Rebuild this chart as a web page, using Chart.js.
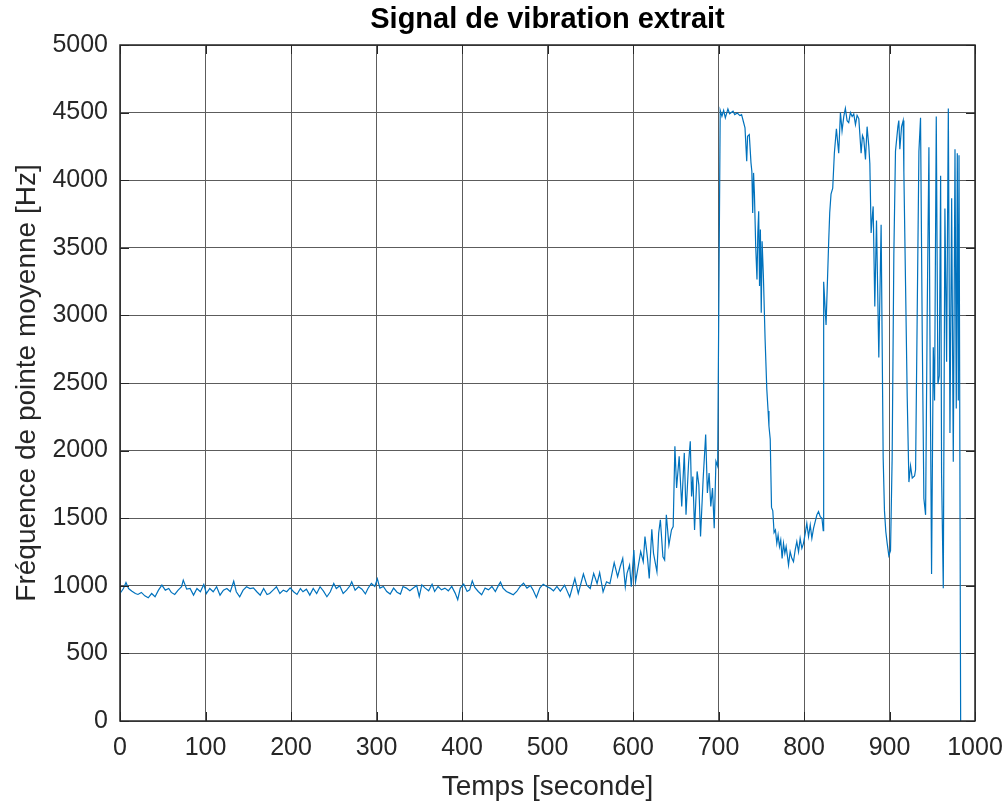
<!DOCTYPE html>
<html>
<head>
<meta charset="utf-8">
<title>Signal de vibration extrait</title>
<script src="https://cdn.jsdelivr.net/npm/chart.js"></script>
<style>
  body { margin: 0; background: #fff; }
  canvas { display: block; background: #fff; }
</style>
</head>
<body>
<canvas id="chart" width="1007" height="804"></canvas>
<script>
// [temps (s), fréquence (Hz)]
const phaseStable = [
  [0,943],[4,980],[7,1025],[10,980],[14,960],[18,943],[21,936],[25,951],[29,926],[33,911],
  [37,943],[41,919],[45,968],[49,1005],[53,968],[57,980],[60,951],[64,936],[68,968],[72,993],
  [74,1042],[78,975],[82,980],[86,931],[90,980],[94,956],[98,1010],[101,943],[105,980],[109,956],
  [113,993],[117,931],[121,968],[125,980],[129,956],[133,1034],[136,956],[140,919],[144,968],[148,993],
  [152,980],[156,985],[160,956],[164,931],[168,980],[172,936],[175,943],[179,968],[183,993],[187,943],
  [191,968],[195,956],[199,985],[203,956],[207,936],[211,980],[214,956],[218,975],[222,931],[226,980],
  [230,943],[234,993],[238,961],[242,919],[246,956],[250,1017],[253,980],[257,1000],[261,943],[265,968],
  [269,1000],[271,1030],[275,968],[279,993],[283,975],[287,940],[290,980],[294,1017],[298,995],[301,1052],
  [304,983],[308,995],[312,958],[316,939],[320,983],[324,953],[328,939],[331,995],[335,983],[339,963],
  [343,983],[347,1002],[350,921],[353,1007],[357,983],[361,963],[365,1012],[368,958],[372,995],[376,970],
  [380,983],[384,963],[388,995],[392,946],[395,897],[398,983],[402,1012],[406,958],[409,970],[412,1037],
  [415,988],[419,958],[423,934],[427,983],[431,970],[435,995],[439,958],[443,1007],[445,1027],[448,983],
  [452,958],[456,946],[460,934],[464,958],[468,995],[472,1020],[476,983],[480,1002],[483,970],[487,914],
  [491,983],[495,1012],[499,995],[503,983],[507,963],[511,995],[515,960],[520,1005],[526,918],[532,1054],
  [536,943],[542,1087],[546,1005],[550,980],[554,1092],[558,1017],[561,1097],[565,955],[569,1030],[573,1017],
  [578,1171],[582,1067],[585,1141],[588,1203],[591,993],[593,1092],[596,1153],[598,993]
];

const phaseTransition = [
  [601,1265],[603,1030],[606,1141],[609,1252],[612,1178],[614,1364],[617,1203],[619,1054],[622,1418],[624,1240],
  [628,1104],[630,1389],[632,1488],[635,1215],[637,1191],[639,1525],[642,1302],[645,1413],[647,1438],[649,2032],
  [651,1723],[654,1958],[657,1587],[660,1983],[662,1525],[665,1908],[667,2069],[668.5,1661],[670,1809],[672,1413],
  [675,1846],[677,1747],[679,1364],[682,1785],[685,2119],[687,1686],[689,1834],[691,1587],[693,1723],[695,1426],
  [697,1921],[699,1884]
];

const phasePlateau = [
  [702,4517],[704,4473],[706,4517],[708,4461],[711,4527],[713,4492],[717,4510],[719,4485],[722,4497],[725,4478],
  [727,4485],[729,4436],[731,4387],[733,4140],[734,4325],[736,4337],[738,4128],[739,4066],[740,3758],[741,4054],
  [742,3906],[743.5,3512],[745,3266],[746,3611],[747,3771],[748,3217],[749,3635],[750,3020],[751,3549],[752.5,3291],
  [754.5,2823],[756.5,2453],[758,2293],[759,2182],[760.5,2084],[762,1580],[763.5,1554],[765,1394],[766.6,1413],[768.2,1314],
  [769.7,1376],[771.3,1290],[772.8,1339],[774.4,1203],[776,1314],[777.6,1240],[779.1,1290],[780.7,1215],[781.9,1153],[783.8,1252],
  [785.8,1203],[787.7,1178],[789.7,1265],[791.6,1327],[793.6,1252],[795.5,1351],[797.5,1277],[799.4,1314],[801.8,1401],[803.3,1463],
  [805.3,1364],[807.3,1450],[809.2,1351],[811.2,1426],[813.1,1475],[815.1,1525],[817,1549],[819,1512],[821,1500],[822.5,1408]
];

const phaseFinale = [
  [823,3248],[825.8,2930],[828.9,3550],[830.1,3761],[831.6,3897],[833.6,3942],[835.5,4199],[837.9,4380],[840.6,4199],[842.6,4501],
  [844.5,4365],[846.5,4470],[848.4,4531],[850.4,4440],[852.3,4426],[854.3,4500],[856.3,4471],[858.2,4490],[860.2,4411],[862.1,4480],
  [864.1,4456],[866.8,4199],[868.4,4330],[869.9,4305],[871.9,4154],[873.8,4396],[875.8,4250],[877,4124],[878.5,3610],[880.1,3750],
  [880.9,3806],[882.8,3066],[884.8,3701],[887.5,2689],[890.2,3670],[892.6,1948],[894.1,1556],[895.7,1400],[897.3,1314],[899.2,1223],
  [901.2,1260],[903.1,1948],[905.1,3459],[907,4214],[909.8,4396],[910.9,4441],[912.1,4229],[914.1,4396],[916,4441],[916.8,4063],
  [918.8,3217],[920.7,2401],[922.7,1767],[924.6,1888],[926.6,1797],[929.3,1812],[930.5,1858],[932.4,3006],[934.4,4214],[936.3,4462],
  [938.3,2855],[940.2,1646],[942.2,1525],[944.1,3006],[946.1,4244],[947.3,2855],[949.2,1088],[951.2,2764],[952.7,2371],[954.7,4471],
  [956.6,2492],[958.2,2553],[959.8,4033],[960.9,1828],[962.9,982],[964.8,3791],[966.8,2658],[968.8,4531],[970.7,2130],[972.7,3867],
  [974.6,1918],[976.6,4229],[978.1,2311],[979.3,4199],[980.5,2371],[981.3,4184],[983.2,0]
];

const signal = phaseStable.concat(phaseTransition, phasePlateau, phaseFinale)
  .map(p => ({ x: p[0], y: p[1] }));

const police = '"Liberation Sans", Arial, Helvetica, sans-serif';
const gris = '#262626';

// cadre complet + graduations vers l'intérieur (style MATLAB)
const cadre = {
  id: 'cadre',
  afterDatasetsDraw(chart) {
    const { ctx, chartArea: a, scales } = chart;
    const lg = 9;
    ctx.save();
    ctx.strokeStyle = gris;
    ctx.lineWidth = 1;
    ctx.beginPath();
    scales.x.ticks.forEach(t => {
      const px = Math.round(scales.x.getPixelForValue(t.value)) + 0.5;
      ctx.moveTo(px, a.bottom); ctx.lineTo(px, a.bottom - lg);
      ctx.moveTo(px, a.top); ctx.lineTo(px, a.top + lg);
    });
    scales.y.ticks.forEach(t => {
      const py = Math.round(scales.y.getPixelForValue(t.value)) + 0.5;
      ctx.moveTo(a.left, py); ctx.lineTo(a.left + lg, py);
      ctx.moveTo(a.right, py); ctx.lineTo(a.right - lg, py);
    });
    ctx.stroke();
    ctx.lineWidth = 1.5;
    ctx.strokeRect(a.left, a.top, a.right - a.left, a.bottom - a.top);
    ctx.restore();
  }
};

new Chart(document.getElementById('chart'), {
  type: 'line',
  data: {
    datasets: [{
      data: signal,
      borderColor: '#0072BD',
      borderWidth: 1.2,
      pointRadius: 0,
      tension: 0,
      fill: false
    }]
  },
  options: {
    responsive: false,
    animation: false,
    devicePixelRatio: 1,
    layout: { padding: { left: 0, right: 32, top: 0, bottom: 0 } },
    plugins: {
      legend: { display: false },
      tooltip: { enabled: false },
      title: {
        display: true,
        fullSize: false,
        text: 'Signal de vibration extrait',
        color: '#000',
        font: { family: police, size: 29, weight: 'bold' },
        padding: { top: 2.4, bottom: 7.8 }
      }
    },
    scales: {
      x: {
        type: 'linear',
        min: 0, max: 1000,
        ticks: { stepSize: 100, color: gris, font: { family: police, size: 25 }, padding: 12, maxRotation: 0, autoSkip: false,
                 callback: v => String(v) },
        grid: { color: '#5c5c5c', lineWidth: 1, drawTicks: false },
        border: { display: false },
        title: { display: true, text: 'Temps [seconde]', color: gris, font: { family: police, size: 28 }, padding: { top: 0, bottom: 0 } },
        afterFit: s => { s.height = 83; s.paddingLeft = 0; s.paddingRight = 0; }
      },
      y: {
        min: 0, max: 5000,
        ticks: { stepSize: 500, color: gris, font: { family: police, size: 25 }, padding: 12, autoSkip: false,
                 callback: v => String(v) },
        grid: { color: '#5c5c5c', lineWidth: 1, drawTicks: false },
        border: { display: false },
        title: { display: true, text: 'Fréquence de pointe moyenne [Hz]', color: gris, font: { family: police, size: 28 }, padding: { top: 10, bottom: 0 } },
        afterFit: s => { s.width = 120; }
      }
    }
  },
  plugins: [cadre]
});
</script>
</body>
</html>
